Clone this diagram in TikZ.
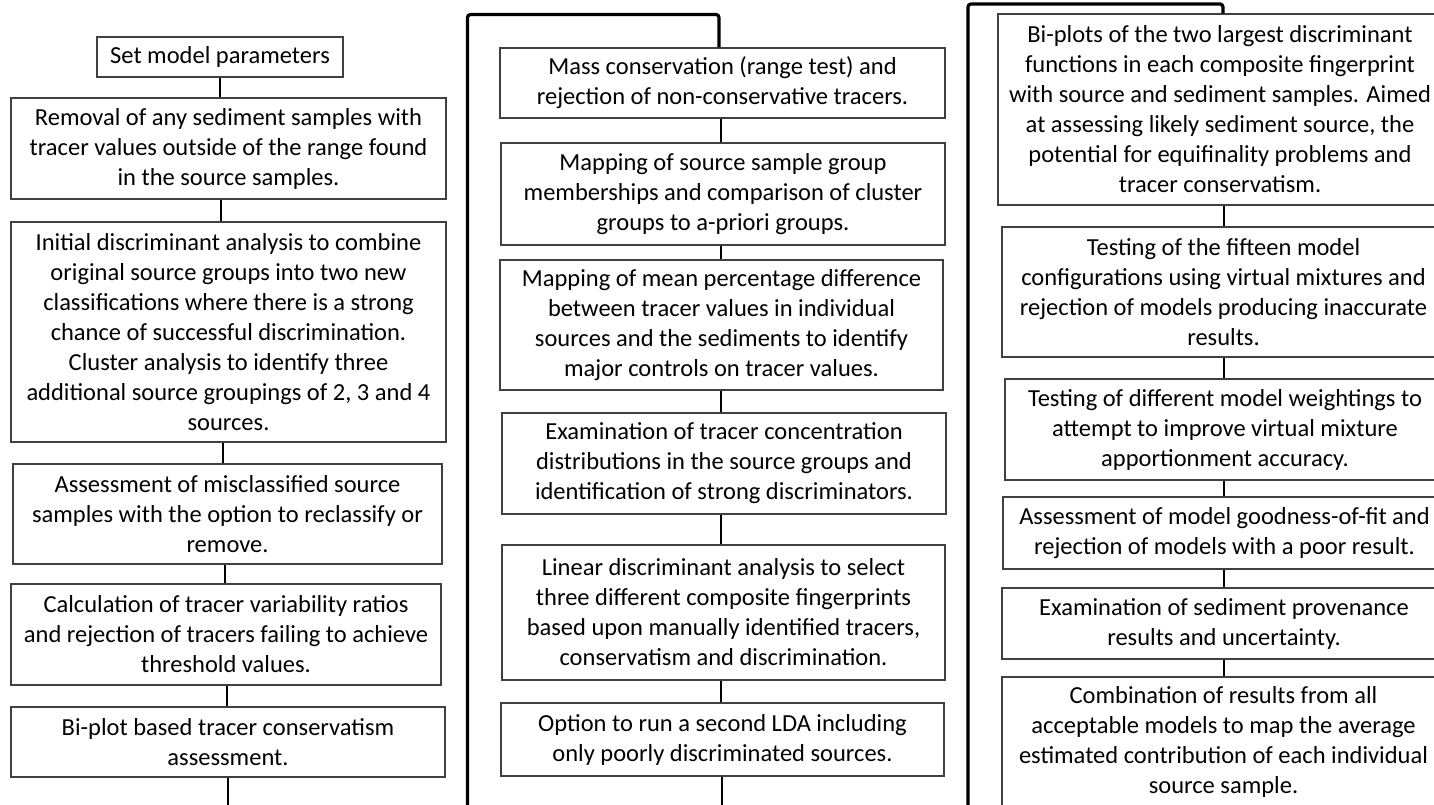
\documentclass[tikz,border=0pt]{standalone}
\usepackage{fontspec}
\setmainfont{Carlito}
\tikzset{
  box/.style={draw=black!75, line width=1.3pt, fill=white, inner sep=0pt, align=center,
    font=\fontsize{24.5}{30}\selectfont, text=black},
  conn/.style={draw=black, line width=2.8pt},
  frame/.style={draw=black, line width=3.2pt, rounded corners=3pt},
}
\newcommand\mybox[6]{%
  \pgfmathsetmacro\bw{#4-#2}\pgfmathsetmacro\bh{#5-#3}%
  \pgfmathsetmacro\bcx{(#2+#4)/2}\pgfmathsetmacro\bcy{(#3+#5)/2}%
  \node[box, minimum width=\bw pt, minimum height=\bh pt] (#1) at (\bcx,\bcy) {#6};}
\begin{document}
\begin{tikzpicture}[x=1pt, y=-1pt]
\useasboundingbox[fill=white] (0,0) rectangle (1434,805);
% column 1
\mybox{A}{97}{37}{343}{77}{Set model parameters}
\mybox{B}{11}{98}{446}{199}{Removal of any sediment samples with\\tracer values outside of the range found\\in the source samples.}
\mybox{C}{11}{222}{446}{442}{Initial discriminant analysis  to combine\\original source groups into two new\\classifications where there is a strong\\chance of successful discrimination.\\Cluster analysis to identify three\\additional source groupings of 2, 3 and 4\\sources.}
\mybox{D}{13}{464}{442}{564}{Assessment of misclassified source\\samples with the option to reclassify or\\remove.}
\mybox{E}{11}{584}{441}{685}{Calculation of tracer variability ratios\\and rejection of tracers failing to achieve\\threshold values.}
\mybox{F}{11}{707}{445}{777}{Bi-plot based tracer conservatism\\assessment.}
% column 2
\mybox{G}{500}{48}{945}{118}{Mass conservation (range test) and\\rejection of non-conservative tracers.}
\mybox{H}{501}{143}{945}{245}{Mapping of source sample group\\memberships and comparison of cluster\\groups to a-priori groups.}
\mybox{I}{500}{260}{943}{390}{Mapping of mean percentage difference\\between tracer values in individual\\sources and the sediments to identify\\major controls on tracer values.}
\mybox{X}{502}{413}{946}{514}{Examination of tracer concentration\\distributions in the source groups and\\identification of strong discriminators.}
\mybox{J}{502}{545}{945}{680}{Linear discriminant analysis to select\\three different composite fingerprints\\based upon manually identified tracers,\\conservatism and discrimination.}
\mybox{K}{501}{703}{944}{776}{Option to run a second LDA including\\only poorly discriminated sources.}
% column 3
\mybox{L}{998}{14}{1442}{205}{Bi-plots of the two largest discriminant\\functions in each composite fingerprint\\with source and sediment samples. Aimed\\at assessing likely sediment source, the\\potential for equifinality problems and\\tracer conservatism.}
\mybox{M}{1002}{227}{1445}{357}{Testing of the fifteen model\\configurations using virtual mixtures and\\rejection of models producing inaccurate\\results.}
\mybox{N}{1005}{379}{1445}{480}{Testing of different model weightings to\\attempt to improve virtual mixture\\apportionment accuracy.}
\mybox{O}{1003}{497}{1446}{569}{Assessment of model goodness-of-fit  and\\rejection of models with a poor result.}
\mybox{P}{1002}{588}{1446}{659}{Examination of sediment provenance\\results and uncertainty.}
\mybox{Q}{1002}{677}{1445}{807}{Combination of results from all\\acceptable models to map the average\\estimated contribution of each individual\\source sample.}
% connector x positions
\coordinate (k1) at (220,0);
\coordinate (k2) at (221,0);
\coordinate (k3) at (223,0);
\coordinate (k4) at (225,0);
\coordinate (k5) at (227,0);
\coordinate (k6) at (228,0);
\coordinate (e1) at (228,807);
\coordinate (m2) at (721,0);
\coordinate (e2) at (722,807);
\coordinate (m3) at (1224,0);
% column 1 connectors
\draw[conn] (A.south -| k1) -- (B.north -| k1);
\draw[conn] (B.south -| k2) -- (C.north -| k2);
\draw[conn] (C.south -| k3) -- (D.north -| k3);
\draw[conn] (D.south -| k4) -- (E.north -| k4);
\draw[conn] (E.south -| k5) -- (F.north -| k5);
\draw[conn] (F.south -| k6) -- (e1);
% column 2 connectors
\draw[conn] (G.south -| m2) -- (H.north -| m2);
\draw[conn] (H.south -| m2) -- (I.north -| m2);
\draw[conn] (I.south -| m2) -- (X.north -| m2);
\draw[conn] (X.south -| m2) -- (J.north -| m2);
\draw[conn] (J.south -| m2) -- (K.north -| m2);
\draw[conn] (K.south -| e2) -- (e2);
% column 3 connectors
\draw[conn] (L.south -| m3) -- (M.north -| m3);
\draw[conn] (M.south -| m3) -- (N.north -| m3);
\draw[conn] (N.south -| m3) -- (O.north -| m3);
\draw[conn] (O.south -| m3) -- (P.north -| m3);
\draw[conn] (P.south -| m3) -- (Q.north -| m3);
% frames
\coordinate (f2b) at (467.5,807);
\coordinate (f2t) at (719,14.5);
\draw[frame] (f2b) |- (f2t) -- (f2t |- G.north);
\coordinate (f3b) at (968,807);
\coordinate (f3t) at (1223,4);
\draw[frame] (f3b) |- (f3t) -- (f3t |- L.north);
\end{tikzpicture}
\end{document}
